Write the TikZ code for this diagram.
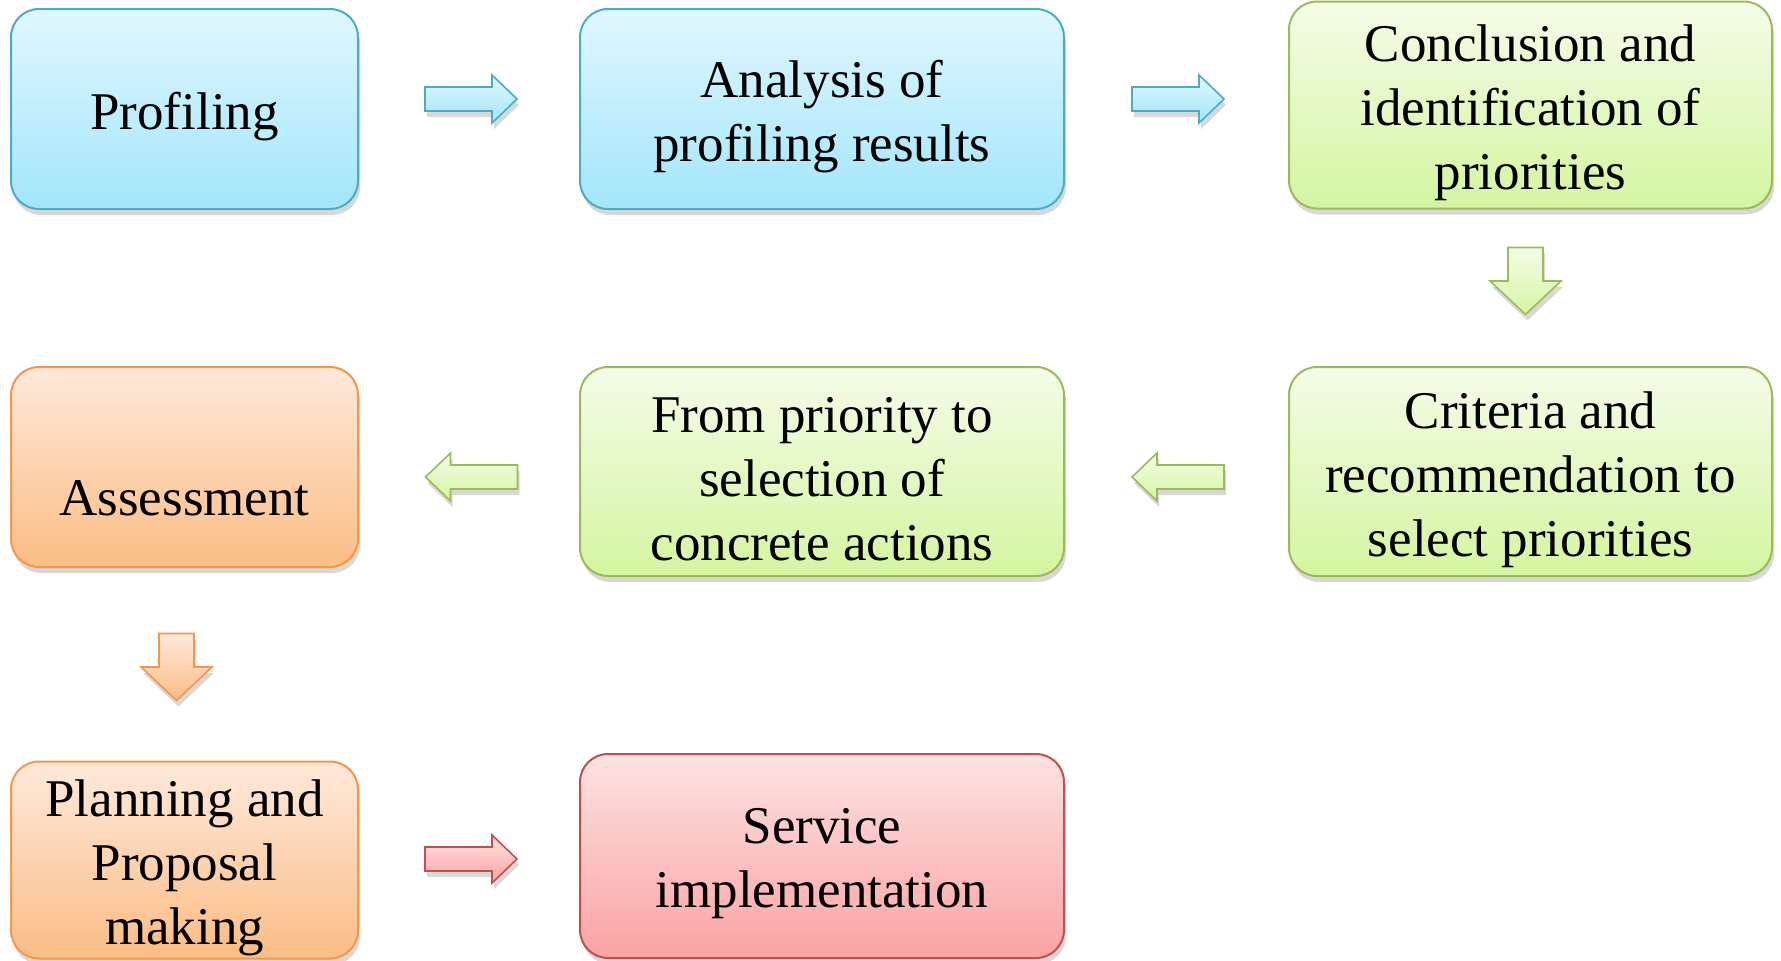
\documentclass[tikz,border=0pt]{standalone}
\usepackage{fontspec}
\setmainfont{Liberation Serif}
\usetikzlibrary{shadows}
\definecolor{bTop}{HTML}{E0F7FE}
\definecolor{bBot}{HTML}{A2E6FB}
\definecolor{bLine}{HTML}{4BACC6}
\definecolor{gTop}{HTML}{F3FCE8}
\definecolor{gBot}{HTML}{D5F5A0}
\definecolor{gLine}{HTML}{9BBB59}
\definecolor{oTop}{HTML}{FEE9DB}
\definecolor{oBot}{HTML}{FBBD84}
\definecolor{oLine}{HTML}{F79646}
\definecolor{rTop}{HTML}{FDE2E2}
\definecolor{rBot}{HTML}{FBA3A3}
\definecolor{rLine}{HTML}{C0504D}
\tikzset{
  softshadow/.style={drop shadow={shadow xshift=2pt, shadow yshift=-6pt, opacity=0.22, fill=black!70}},
  box/.style={rounded corners=28pt, line width=2pt, inner sep=0pt, softshadow},
  txt/.style={align=center, inner sep=0pt, font=\fontsize{53}{64}\selectfont, yshift=-8pt},
  bluebox/.style={box, draw=bLine, top color=bTop, bottom color=bBot},
  greenbox/.style={box, draw=gLine, top color=gTop, bottom color=gBot},
  orangebox/.style={box, draw=oLine, top color=oTop, bottom color=oBot},
  redbox/.style={box, draw=rLine, top color=rTop, bottom color=rBot},
  arrowbase/.style={line width=1.6pt, line join=miter, softshadow},
  blueA/.style={arrowbase, draw=bLine, top color=bTop, bottom color=bBot},
  greenA/.style={arrowbase, draw=gLine, top color=gTop, bottom color=gBot},
  orangeA/.style={arrowbase, draw=oLine, top color=oTop, bottom color=oBot},
  redA/.style={arrowbase, draw=rLine, top color=rTop, bottom color=rBot},
  rarr/.pic={\path[#1] (-46,-12) -- (21,-12) -- (21,-24) -- (46,0) -- (21,24) -- (21,12) -- (-46,12) -- cycle;},
  larr/.pic={\path[#1] (46,-12) -- (-21,-12) -- (-21,-24) -- (-46,0) -- (-21,24) -- (-21,12) -- (46,12) -- cycle;},
  darr/.pic={\path[#1] (-17.5,-33.5) -- (17.5,-33.5) -- (17.5,0) -- (35.5,0) -- (0,33.5) -- (-35.5,0) -- (-17.5,0) -- cycle;},
}
\begin{document}
\begin{tikzpicture}[x=1pt,y=-1pt]
\useasboundingbox (0,0) rectangle (1781,961);
% row 1
\node[bluebox, minimum width=347pt, minimum height=200pt] (prof) at (184.5,109) {};
\node[txt] (prof-t) at (prof.center) {Profiling};
\node[bluebox, minimum width=484pt, minimum height=200pt] (anal) at (822,109) {};
\node[txt] (anal-t) at (anal.center) {Analysis of\\profiling results};
\node[greenbox, minimum width=483pt, minimum height=207pt] (concl) at (1530.5,105) {};
\node[txt] (concl-t) at (concl.center) {Conclusion and\\identification of\\priorities};
% row 2
\node[greenbox, minimum width=483pt, minimum height=209pt] (crit) at (1530.5,471.5) {};
\node[txt] (crit-t) at (crit.center) {Criteria and\\recommendation to\\select priorities};
\node[greenbox, minimum width=484pt, minimum height=209pt] (prio) at (822,471.5) {};
\node[txt] (prio-t) at (prio.center) {From priority to\\selection of\\concrete actions};
\node[orangebox, minimum width=347pt, minimum height=200pt] (assess) at (184.5,467) {};
\node[txt, yshift=-23pt] (assess-t) at (assess.center) {Assessment};
% row 3
\node[orangebox, minimum width=347pt, minimum height=197pt] (plan) at (184.5,860) {};
\node[txt] (plan-t) at (plan.center) {Planning and\\Proposal\\making};
\node[redbox, minimum width=484pt, minimum height=204pt] (serv) at (822,856) {};
\node[txt] (serv-t) at (serv.center) {Service\\implementation};
% block arrows
\pic (a1) at (471,99) {rarr=blueA};
\pic (a2) at (1178,99) {rarr=blueA};
\pic (a3) at (1525.5,281) {darr=greenA};
\pic (a4) at (1178,477) {larr=greenA};
\pic (a5) at (471.5,477) {larr=greenA};
\pic (a6) at (176.5,667) {darr=orangeA};
\pic (a7) at (471,859) {rarr=redA};
\end{tikzpicture}
\end{document}
